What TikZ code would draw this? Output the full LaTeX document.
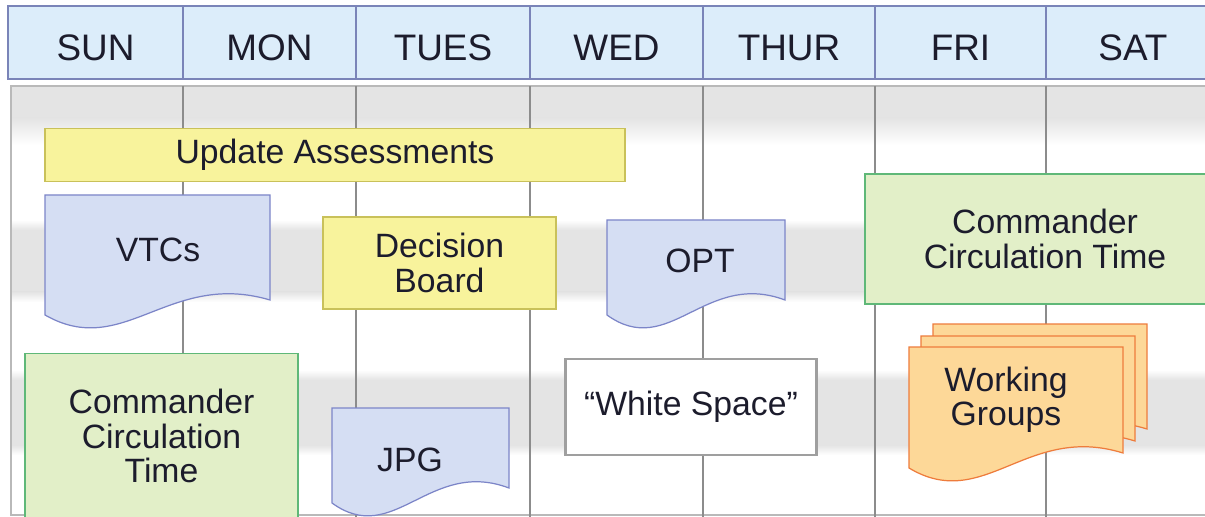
\documentclass[tikz,border=0pt]{standalone}
\usepackage{fontspec}
\setmainfont{Liberation Sans}
\usetikzlibrary{positioning}
\definecolor{hdrfill}{HTML}{DCEDFA}
\definecolor{hdrline}{HTML}{7A84B8}
\definecolor{docfill}{HTML}{D5DEF3}
\definecolor{docline}{HTML}{7C85C8}
\definecolor{ylwfill}{HTML}{F8F39C}
\definecolor{ylwline}{HTML}{C9C15A}
\definecolor{grnfill}{HTML}{E2EFC8}
\definecolor{grnline}{HTML}{5FB878}
\definecolor{orgfill}{HTML}{FDD898}
\definecolor{orgline}{HTML}{EE7C3C}
\definecolor{bandg}{HTML}{E4E4E4}
\definecolor{gridline}{HTML}{8C8C8C}
\definecolor{txtdark}{HTML}{1C1C2C}
% document shape: style, left, top, right, bottom of left edge
\newcommand{\docshape}[5]{%
  \draw[#1] (#2,#3) -- (#4,#3) -- (#4,{#5-15})
    .. controls ({#2+0.55*(#4-#2)},{#5-45}) and ({#2+0.35*(#4-#2)},{#5+45}) .. (#2,#5) -- cycle;}

\begin{document}
\begin{tikzpicture}[x=0.02cm, y=-0.02cm,
    every node/.style={text=txtdark, align=center, inner sep=0pt},
    dayhdr/.style={draw=hdrline, fill=hdrfill, line width=0.7pt,
      font=\fontsize{21}{23}\selectfont, text height=0.74cm, text depth=0pt},
    lbl/.style={font=\fontsize{19.2}{19.5}\selectfont},
    ylwbox/.style={lbl, draw=ylwline, fill=ylwfill, line width=0.7pt},
    grnbox/.style={lbl, draw=grnline, fill=grnfill, line width=0.7pt},
    wsbox/.style={lbl, draw=gray!75, fill=white, line width=1.6pt},
    bluedoc/.style={draw=docline, fill=docfill, line width=0.7pt},
    orgdoc/.style={draw=orgline, fill=orgfill, line width=0.7pt}]
  \clip (0,0) rectangle (1205,517);
  \fill[white] (0,0) rectangle (1205,517);

  % shaded rows behind the week
  \fill[bandg] (11,86) rectangle (1205,118);
  \shade[top color=bandg, bottom color=white] (11,118) rectangle (1205,145);
  \foreach \ya/\yb in {230/292, 380/445} {
    \fill[bandg] (11,\ya) rectangle (1205,\yb);
    \shade[top color=white, bottom color=bandg] (11,{\ya-10}) rectangle (1205,\ya);
    \shade[top color=bandg, bottom color=white] (11,\yb) rectangle (1205,{\yb+10});
  }
  \draw[gray!55, line width=0.8pt] (1220,86) -- (11,86) -- (11,515) -- (1220,515);
  \foreach \x in {183,356,530,703,875,1046}
    \draw[gridline, line width=0.6pt] (\x,86) -- (\x,517);

  % day headers
  \foreach \xa/\xb/\d in {8/183/SUN, 183/356/MON, 356/530/TUES, 530/703/WED,
                          703/875/THUR, 875/1046/FRI, 1046/1220/SAT}
    \node[dayhdr, minimum width={(\xb-\xa)*0.02cm}, minimum height=1.46cm]
      (\d) at ({(\xa+\xb)/2},42.5) {\d};

  % events
  \node[ylwbox, minimum width=11.6cm, minimum height=1.06cm]
    (update) at (335,155) {Update Assessments};

  \docshape{bluedoc}{45}{195}{270}{315}
  \node[lbl] (vtcs) at (158,250) {VTCs};

  \node[ylwbox, minimum width=4.66cm, minimum height=1.84cm]
    (board) at (439.5,263) {Decision\\Board};

  \docshape{bluedoc}{607}{220}{785}{315}
  \node[lbl] (opt) at (700,261) {OPT};

  \node[grnbox, minimum width=7.2cm, minimum height=2.6cm]
    (cctfri) at (1045,239) {Commander\\Circulation Time};

  \node[grnbox, minimum width=5.46cm, minimum height=3.3cm]
    (cctsun) at (161.5,436) {Commander\\Circulation\\Time};

  \docshape{bluedoc}{332}{408}{509}{503}
  \node[lbl] (jpg) at (410,460) {JPG};

  \node[wsbox, minimum width=5.02cm, minimum height=1.92cm]
    (white) at (691,407) {``White Space''};

  % stacked working groups
  \docshape{orgdoc}{933}{324}{1147}{444}
  \docshape{orgdoc}{921}{336}{1135}{456}
  \docshape{orgdoc}{909}{347}{1123}{468}
  \node[lbl] (wgroups) at (1006,400) {Working\\Groups};
\end{tikzpicture}
\end{document}
